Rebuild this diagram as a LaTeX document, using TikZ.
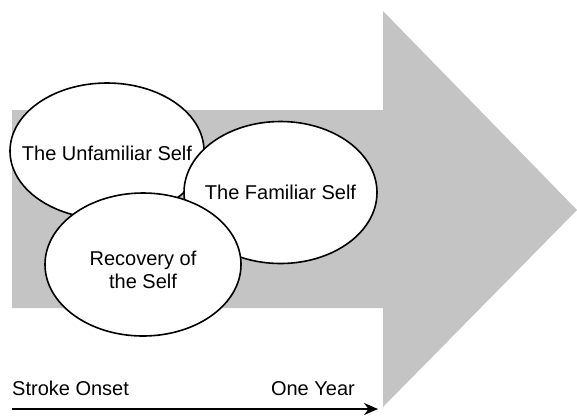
\documentclass[tikz,border=0pt]{standalone}
\usepackage{fontspec}
\setmainfont{Liberation Sans}
\usetikzlibrary{shapes.geometric}
\usetikzlibrary{arrows.meta}
\definecolor{arrowgray}{RGB}{196,196,196}
\tikzset{self node/.style={ellipse,draw,line width=1.6pt,fill=white,inner sep=0pt,minimum width=194pt,minimum height=140pt}}
\tikzset{time label/.style={inner sep=0pt}}
\newcommand{\selftext}[1]{\makebox[0pt]{\raisebox{0pt}[0pt][0pt]{#1}}}

\begin{document}
\begin{tikzpicture}[x=1pt,y=-1pt,font=\fontsize{20}{23}\selectfont]
	\useasboundingbox (0,0) rectangle (577,416);
	% big gray arrow
	\fill[arrowgray] (12,110) -- (383,110) -- (383,11) -- (577,210) -- (383,407) -- (383,308) -- (12,308) -- cycle;

	\node[self node,minimum height=136pt] (unfamiliar) at (107,151) {\selftext{\raisebox{-9pt}{The Unfamiliar Self}}};
	\node[self node,minimum width=193pt,minimum height=142pt] (familiar) at (280.5,192.5) {\selftext{\raisebox{-7pt}{The Familiar Self}}};
	\node[self node,minimum width=196pt,minimum height=143pt] (recovery) at (143,264.5) {\selftext{\raisebox{-13pt}{\begin{tabular}{@{}c@{}}Recovery of\\the Self\end{tabular}}}};

	\node[time label,anchor=base west] (onset) at (12,395) {Stroke Onset};
	\node[time label,anchor=base east] (year) at (355,395) {One Year};

	\coordinate (t_{0}) at (12,409);
	\coordinate (t_{1}) at (378,409);
	\draw[line width=2pt,-{Stealth[length=14pt,width=12pt]}] (t_{0}) -- (t_{1});
\end{tikzpicture}
\end{document}
